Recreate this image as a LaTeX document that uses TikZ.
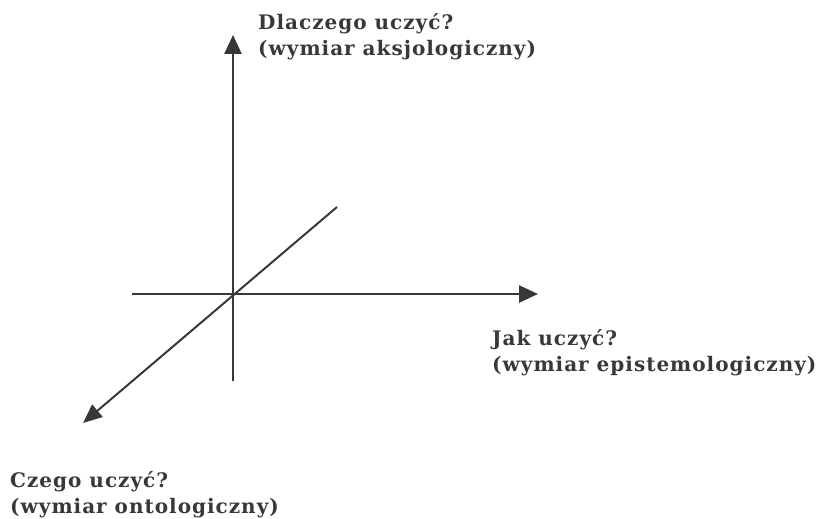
\documentclass[tikz,border=0pt]{standalone}
\usepackage{fontspec}
\setmainfont{DejaVu Serif}
\usetikzlibrary{arrows.meta}
\definecolor{ink}{HTML}{383838}
\begin{document}
\begin{tikzpicture}[x=1pt,y=-1pt,
  axis/.style={draw=ink,line width=2.6pt,-{Triangle[length=19pt,width=17pt]}},
  plain/.style={draw=ink,line width=2.6pt},
  diag/.style={draw=ink,line width=2pt,-{Triangle[length=19pt,width=16pt]}},
  lbl/.style={text=ink,align=left,inner sep=0pt,anchor=north west,
    font=\fontsize{20}{26}\selectfont\bfseries\addfontfeature{LetterSpace=5}}]
\useasboundingbox (0,0) rectangle (819,519);
\coordinate (O) at (233,294);
\coordinate (top) at (233,35);
\coordinate (bot) at (233,381);
\coordinate (left) at (132,294);
\coordinate (right) at (538,294);
\coordinate (ne) at (337,207);
\coordinate (sw) at (83,423);
\draw[plain] (bot) -- (O);
\draw[axis] (O) -- (top);
\draw[plain] (left) -- (O);
\draw[axis] (O) -- (right);
\draw[diag] (ne) -- (sw);
\node[lbl] (ax) at (258,13.5) {Dlaczego uczyć?\\(wymiar aksjologiczny)};
\node[lbl] (ep) at (492,329.5) {Jak uczyć?\\(wymiar epistemologiczny)};
\node[lbl] (on) at (10,471.5) {Czego uczyć?\\(wymiar ontologiczny)};
\end{tikzpicture}
\end{document}
